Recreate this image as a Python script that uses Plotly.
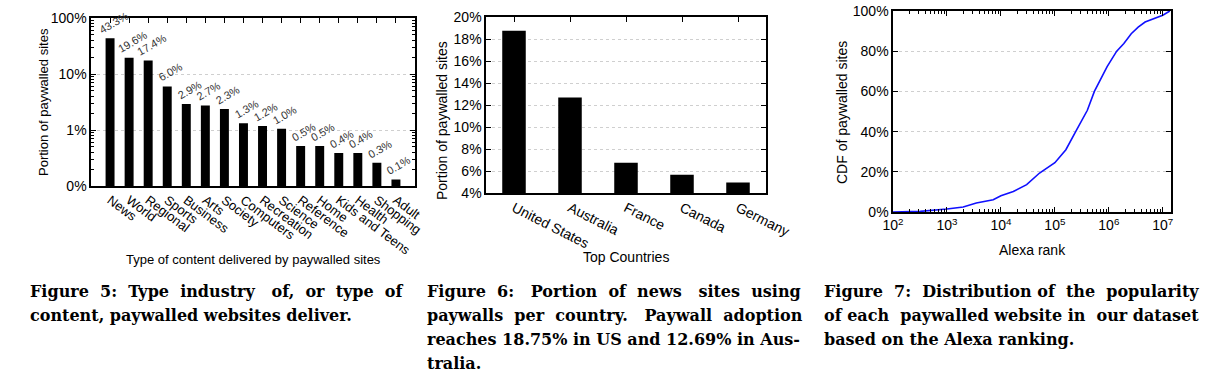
import math
import plotly.graph_objects as go

# ---------------- data ----------------
# Figure 5
content_types = ["News", "World", "Regional", "Sports", "Business", "Arts", "Society",
                 "Computers", "Recreation", "Science", "Reference", "Home",
                 "Kids and Teens", "Health", "Shopping", "Adult"]
content_share = [43.3, 19.6, 17.4, 6.0, 2.9, 2.75, 2.37, 1.32, 1.18, 1.05,
                 0.52, 0.52, 0.39, 0.39, 0.26, 0.13]
content_labels = ["43.3%", "19.6%", "17.4%", "6.0%", "2.9%", "2.7%", "2.3%", "1.3%",
                  "1.2%", "1.0%", "0.5%", "0.5%", "0.4%", "0.4%", "0.3%", "0.1%"]
y1_ticks = [0.1, 1, 10, 100]
y1_labels = ["0%", "1%", "10%", "100%"]

# Figure 6
countries = ["United States", "Australia", "France", "Canada", "Germany"]
country_share = [18.75, 12.69, 6.75, 5.65, 4.95]
y2_ticks = [4, 6, 8, 10, 12, 14, 16, 18, 20]

# Figure 7
alexa_rank = [1e2, 3.2e2, 1e3, 2e3, 3.5e3, 7.2e3, 1e4, 1.7e4, 3e4, 5.2e4, 1e5, 1.6e5,
              2.5e5, 4e5, 5.4e5, 6.6e5, 9.3e5, 1.4e6, 1.9e6, 2.6e6, 3.5e6, 4.7e6,
              6.6e6, 1e7, 1.35e7]
cdf_share = [0, 0.3, 1.5, 2.5, 4.5, 6.1, 8.1, 10.2, 13.6, 19.4, 24.5, 31.0,
             40.6, 50.6, 60.0, 64.4, 72.3, 80.0, 83.8, 88.7, 92.0, 94.5,
             96.2, 97.9, 100.0]
x3_ticks = [1e2, 1e3, 1e4, 1e5, 1e6, 1e7]
x3_labels = ["10<sup>2</sup>", "10<sup>3</sup>", "10<sup>4</sup>", "10<sup>5</sup>",
             "10<sup>6</sup>", "10<sup>7</sup>"]
y3_ticks = [0, 20, 40, 60, 80, 100]

captions = [
    ["Figure 5: Type industry of, or type of", "content, paywalled websites deliver."],
    ["Figure 6: Portion of news sites using", "paywalls per country. Paywall adoption",
     "reaches 18.75% in US and 12.69% in Aus-", "tralia."],
    ["Figure 7: Distribution of the popularity", "of each paywalled website in our dataset",
     "based on the Alexa ranking."],
]
# extra (non-breaking) spaces used to approximate the justified caption lines
caption_pad = [[8, 0], [8, 5, 0, 0], [4, 2, 0]]

# ---------------- figure ----------------
W, H = 1212, 379
SANS = "Liberation Sans, Arial, sans-serif"
SERIF = "DejaVu Serif, Liberation Serif, serif"


def px(x):
    return x / W


def py(y):
    return 1 - y / H


def justify(line, extra):
    words = line.split(" ")
    gaps = len(words) - 1
    if extra <= 0 or gaps <= 0:
        return line
    # spread the extra spaces as evenly as possible over the gaps
    counts = [0] * gaps
    for k in range(extra):
        counts[int((k + 0.5) * gaps / extra)] += 1
    out = words[0]
    for n, w in zip(counts, words[1:]):
        out += " " + "&nbsp;" * n + w
    return out


fig = go.Figure()

fig.add_trace(go.Bar(x=content_types, y=content_share, marker_color="black",
                     marker_line_width=0, width=0.47, xaxis="x", yaxis="y"))
fig.add_trace(go.Bar(x=countries, y=country_share, marker_color="black",
                     marker_line_width=0, width=0.42, xaxis="x2", yaxis="y2"))
fig.add_trace(go.Scatter(x=alexa_rank, y=cdf_share, mode="lines",
                         line=dict(color="#1010ff", width=1.6),
                         xaxis="x3", yaxis="y3"))

axis_common = dict(showline=True, linecolor="black", linewidth=1.6, mirror="ticks",
                   ticks="inside", ticklen=5, tickcolor="black", tickwidth=1,
                   zeroline=False, fixedrange=True, automargin=False)
grid_common = dict(showgrid=True, gridcolor="#cfcfcf", griddash="dot", gridwidth=1)

minor1 = []
for d in [0.1, 1, 10]:
    for k in range(2, 10):
        minor1.append(d * k)

minor3 = []
for e in range(2, 8):
    for k in range(2, 10):
        v = k * 10 ** e
        if v < 1.4e7:
            minor3.append(v)

fig.update_layout(
    width=W, height=H, margin=dict(l=0, r=0, t=0, b=0, autoexpand=False),
    paper_bgcolor="white", plot_bgcolor="white", showlegend=False,
    font=dict(family=SANS, color="black", size=13),
    xaxis=dict(domain=[px(91), px(415)], anchor="y", range=[-1, 16],
               tickangle=37, tickfont=dict(size=13), showgrid=False, **axis_common),
    yaxis=dict(domain=[py(186), py(18)], anchor="x", type="log", range=[-1, 2],
               tickmode="array", tickvals=y1_ticks, ticktext=y1_labels,
               tickfont=dict(size=14),
               minor=dict(tickmode="array", tickvals=minor1, ticks="inside", ticklen=3,
                          tickcolor="black", showgrid=False),
               **grid_common, **axis_common),
    xaxis2=dict(domain=[px(486), px(766)], anchor="y2", range=[-0.5, 4.5],
                tickangle=27, tickfont=dict(size=14), showgrid=False, **axis_common),
    yaxis2=dict(domain=[py(193), py(17)], anchor="x2", range=[4, 20],
                tickmode="array", tickvals=y2_ticks,
                ticktext=[f"{v}%" for v in y2_ticks],
                tickfont=dict(size=14), **grid_common, **axis_common),
    xaxis3=dict(domain=[px(893), px(1171)], anchor="y3", type="log",
                range=[2, math.log10(1.42e7)], tickmode="array", tickvals=x3_ticks,
                ticktext=x3_labels, tickfont=dict(size=14), showgrid=False,
                minor=dict(tickmode="array", tickvals=minor3, ticks="inside", ticklen=3,
                           tickcolor="black", showgrid=False),
                **axis_common),
    yaxis3=dict(domain=[py(212), py(11)], anchor="x3", range=[0, 100],
                tickmode="array", tickvals=y3_ticks,
                ticktext=[f"{v}%" for v in y3_ticks],
                tickfont=dict(size=14), **grid_common, **axis_common),
)

annotations = []
# bar value labels (figure 5)
for cat, val, lab in zip(content_types, content_share, content_labels):
    annotations.append(dict(x=cat, y=math.log10(val), xref="x", yref="y", text=lab,
                            showarrow=False, textangle=-30, xanchor="center",
                            yanchor="bottom", xshift=3, yshift=0,
                            font=dict(size=11, color="#333333", family=SANS)))


def title(x, y, text, size, angle=0):
    return dict(x=px(x), y=py(y), xref="paper", yref="paper", text=text,
                textangle=angle, showarrow=False, xanchor="center", yanchor="middle",
                font=dict(size=size, family=SANS, color="black"))


annotations += [
    title(43, 102, "Portion of paywalled sites", 13, -90),
    title(253, 259, "Type of content delivered by paywalled sites", 13),
    title(442, 120, "Portion of paywalled sites", 14, -90),
    title(626, 257, "Top Countries", 14),
    title(842, 113, "CDF of paywalled sites", 14, -90),
    title(1032, 250, "Alexa rank", 14),
]

# captions
cap_x = [28, 425, 822]
for cx, lines, pads in zip(cap_x, captions, caption_pad):
    for i, (line, pad) in enumerate(zip(lines, pads)):
        annotations.append(dict(x=px(cx), y=py(291 + 24 * i), xref="paper", yref="paper",
                                text="<b>" + justify(line, pad) + "</b>", showarrow=False,
                                xanchor="left", yanchor="middle",
                                font=dict(size=16, family=SERIF, color="black")))

fig.update_layout(annotations=annotations)

fig.write_html("out.html", config={"displayModeBar": False, "staticPlot": True},
               post_script="document.body.style.margin='0';document.body.style.overflow='hidden';")
